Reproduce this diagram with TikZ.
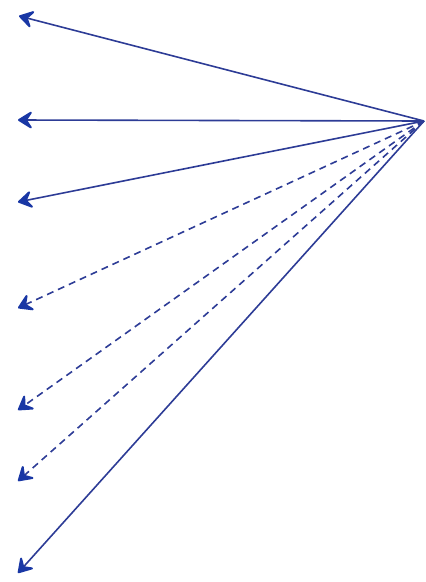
\documentclass[tikz,border=0pt]{standalone}
\usetikzlibrary{arrows.meta}
\definecolor{ln}{RGB}{45,60,150}
\definecolor{hd}{RGB}{25,55,165}
\tikzset{
  ray/.style={draw=ln, line width=1.6pt, -{Stealth[length=17pt,width=21pt,inset=7pt,fill=hd,color=hd,line width=2pt,round]}},
  dray/.style={ray, dash pattern=on 7pt off 5pt},
}
\begin{document}
\begin{tikzpicture}[x=1pt,y=-1pt]
\useasboundingbox (0,0) rectangle (426,582);
\coordinate (s) at (424,121);
\coordinate (e1) at (19,16);
\coordinate (e2) at (18,120);
\coordinate (e3) at (18,202);
\coordinate (e4) at (18,308);
\coordinate (e5) at (18,410);
\coordinate (e6) at (18,481);
\coordinate (e7) at (18,573);
\draw[ray] (s) -- (e1);
\draw[ray] (s) -- (e2);
\draw[ray] (s) -- (e3);
\draw[dray] (s) -- (e4);
\draw[dray] (s) -- (e5);
\draw[dray] (s) -- (e6);
\draw[ray] (s) -- (e7);
\end{tikzpicture}
\end{document}
